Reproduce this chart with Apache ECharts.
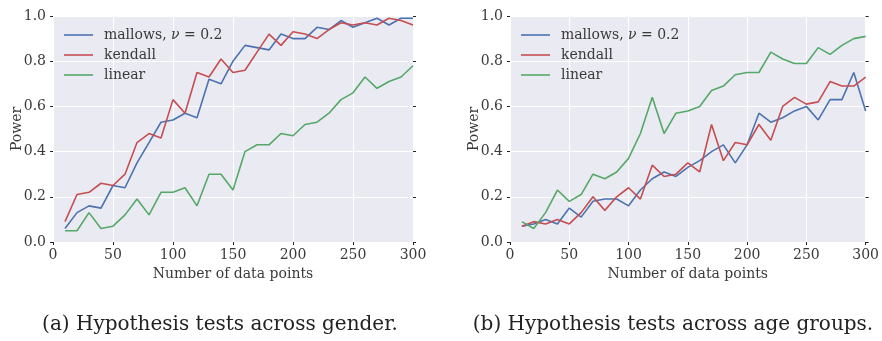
<!DOCTYPE html>
<html>
<head>
<meta charset="utf-8">
<script src="https://cdn.jsdelivr.net/npm/echarts@6/dist/echarts.min.js"></script>
<style>
  html, body { margin: 0; padding: 0; background: #fff; }
  #chart { width: 882px; height: 341px; }
</style>
</head>
<body>
<div id="chart"></div>
<script>
const nPoints = [10, 20, 30, 40, 50, 60, 70, 80, 90, 100, 110, 120, 130, 140, 150,
  160, 170, 180, 190, 200, 210, 220, 230, 240, 250, 260, 270, 280, 290, 300]
const yTicks = [0, 0.2, 0.4, 0.6, 0.8, 1.0]
const xTicks = [0, 50, 100, 150, 200, 250, 300]

// (a) gender
const genderMallows = [0.06, 0.13, 0.16, 0.15, 0.25, 0.24, 0.35, 0.44, 0.53, 0.54, 0.57, 0.55, 0.72, 0.70, 0.80,
  0.87, 0.86, 0.85, 0.92, 0.90, 0.90, 0.95, 0.94, 0.98, 0.95, 0.97, 0.99, 0.96, 0.99, 0.99]
const genderKendall = [0.09, 0.21, 0.22, 0.26, 0.25, 0.30, 0.44, 0.48, 0.46, 0.63, 0.57, 0.75, 0.73, 0.81, 0.75,
  0.76, 0.84, 0.92, 0.87, 0.93, 0.92, 0.90, 0.94, 0.97, 0.96, 0.97, 0.96, 0.99, 0.98, 0.96]
const genderLinear = [0.05, 0.05, 0.13, 0.06, 0.07, 0.12, 0.19, 0.12, 0.22, 0.22, 0.24, 0.16, 0.30, 0.30, 0.23,
  0.40, 0.43, 0.43, 0.48, 0.47, 0.52, 0.53, 0.57, 0.63, 0.66, 0.73, 0.68, 0.71, 0.73, 0.78]

// (b) age groups
const ageMallows = [0.07, 0.08, 0.10, 0.08, 0.15, 0.11, 0.18, 0.19, 0.19, 0.16, 0.23, 0.28, 0.31, 0.29, 0.33,
  0.36, 0.40, 0.43, 0.35, 0.43, 0.57, 0.53, 0.55, 0.58, 0.60, 0.54, 0.63, 0.63, 0.75, 0.58]
const ageKendall = [0.07, 0.09, 0.08, 0.10, 0.08, 0.13, 0.20, 0.14, 0.20, 0.24, 0.19, 0.34, 0.29, 0.30, 0.35,
  0.31, 0.52, 0.36, 0.44, 0.43, 0.52, 0.45, 0.60, 0.64, 0.61, 0.62, 0.71, 0.69, 0.69, 0.73]
const ageLinear = [0.09, 0.06, 0.13, 0.23, 0.18, 0.21, 0.30, 0.28, 0.31, 0.37, 0.48, 0.64, 0.48, 0.57, 0.58,
  0.60, 0.67, 0.69, 0.74, 0.75, 0.75, 0.84, 0.81, 0.79, 0.79, 0.86, 0.83, 0.87, 0.90, 0.91]

const seriesNames = ['mallows, ν = 0.2', 'kendall', 'linear']
const colors = ['#4c72b0', '#c44e52', '#55a868']
const captions = ['(a) Hypothesis tests across gender.', '(b) Hypothesis tests across age groups.']

const font = 'DejaVu Serif'
const textColor = '#3a3a3a'

function pairs(values) {
  return nPoints.map((n, i) => [n, values[i]])
}

function xAxisFor(gridIndex) {
  return {
    type: 'value',
    gridIndex: gridIndex,
    min: xTicks[0],
    max: xTicks[xTicks.length - 1],
    interval: 50,
    name: 'Number of data points',
    nameLocation: 'middle',
    nameGap: 21,
    nameTextStyle: { fontFamily: font, fontSize: 14, color: textColor },
    axisLine: { show: false },
    axisTick: { show: true, length: 3, lineStyle: { color: '#222' } },
    axisLabel: { fontFamily: font, fontSize: 14, color: textColor, margin: 6 },
    splitLine: { lineStyle: { color: '#fff', width: 1 } }
  }
}

function yAxisFor(gridIndex, side) {
  const isLeft = side === 'left'
  return {
    type: 'value',
    gridIndex: gridIndex,
    position: side,
    min: yTicks[0],
    max: yTicks[yTicks.length - 1],
    interval: 0.2,
    name: isLeft ? 'Power' : '',
    nameLocation: 'middle',
    nameGap: 29,
    nameMoveOverlap: false,
    nameTextStyle: { fontFamily: font, fontSize: 14, color: textColor },
    axisLine: { show: false },
    axisTick: { show: true, length: 3, lineStyle: { color: '#222' } },
    axisLabel: {
      show: isLeft,
      fontFamily: font, fontSize: 14, color: textColor, margin: 7,
      formatter: v => v.toFixed(1)
    },
    splitLine: { show: isLeft, lineStyle: { color: '#fff', width: 1 } }
  }
}

function lineSeries(name, values, color, axisIdx, yIdx) {
  return {
    type: 'line',
    name: name,
    xAxisIndex: axisIdx,
    yAxisIndex: yIdx,
    data: pairs(values),
    symbol: 'none',
    lineStyle: { color: color, width: 1.6 },
    itemStyle: { color: color },
    animation: false
  }
}

function legendFor(left) {
  return {
    left: left,
    top: 28,
    orient: 'vertical',
    padding: 0,
    icon: 'rect',
    itemWidth: 29,
    itemHeight: 1.6,
    itemGap: 6,
    data: seriesNames,
    formatter: name => {
      const parts = name.split('ν')
      if (parts.length === 1) return '{t|' + name + '}'
      return '{t|' + parts[0] + '}{i|ν}{t|' + parts[1] + '}'
    },
    textStyle: {
      color: textColor,
      padding: [0, 0, 0, 6],
      rich: {
        t: { fontFamily: font, fontSize: 14, color: textColor, height: 16 },
        i: { fontFamily: font, fontSize: 14, fontStyle: 'italic', color: textColor, height: 16 }
      }
    }
  }
}

const chart = echarts.init(document.getElementById('chart'))

chart.setOption({
  animation: false,
  grid: [
    { left: 53, top: 16, width: 360, height: 226, show: true, backgroundColor: '#eaeaf2', borderWidth: 0 },
    { left: 510, top: 16, width: 360, height: 226, show: true, backgroundColor: '#eaeaf2', borderWidth: 0 }
  ],
  xAxis: [xAxisFor(0), xAxisFor(1)],
  yAxis: [yAxisFor(0, 'left'), yAxisFor(0, 'right'), yAxisFor(1, 'left'), yAxisFor(1, 'right')],
  legend: [legendFor(64), legendFor(521)],
  series: [
    lineSeries(seriesNames[0], genderMallows, colors[0], 0, 0),
    lineSeries(seriesNames[1], genderKendall, colors[1], 0, 0),
    lineSeries(seriesNames[2], genderLinear, colors[2], 0, 0),
    lineSeries(seriesNames[0], ageMallows, colors[0], 1, 2),
    lineSeries(seriesNames[1], ageKendall, colors[1], 1, 2),
    lineSeries(seriesNames[2], ageLinear, colors[2], 1, 2)
  ],
  graphic: [
    {
      type: 'text', x: 220, y: 325,
      style: { text: captions[0], fontFamily: font, fontSize: 20, fill: '#222', align: 'center', verticalAlign: 'middle' }
    },
    {
      type: 'text', x: 673, y: 325,
      style: { text: captions[1], fontFamily: font, fontSize: 20, fill: '#222', align: 'center', verticalAlign: 'middle' }
    }
  ]
})
</script>
</body>
</html>
